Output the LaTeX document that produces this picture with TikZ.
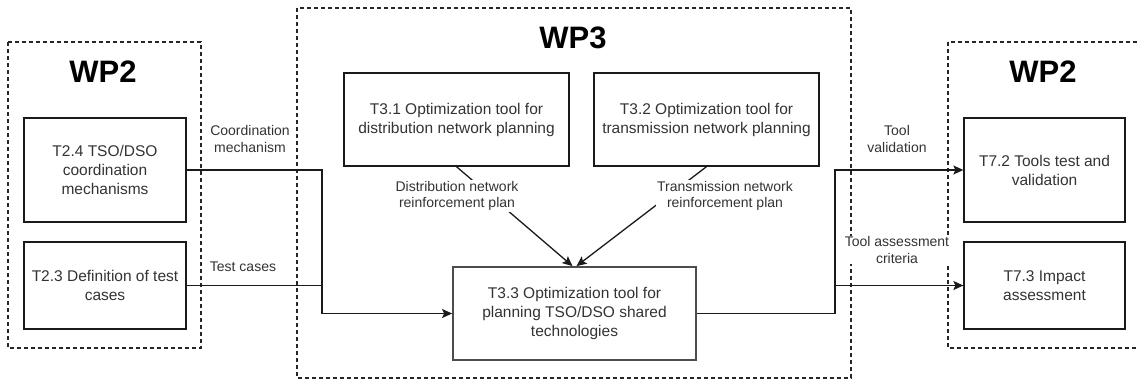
\documentclass[tikz,border=0pt]{standalone}
\usepackage{fontspec}
\setmainfont{Liberation Sans}
\usetikzlibrary{arrows.meta,calc}
\definecolor{txt}{HTML}{333333}
\definecolor{edge}{HTML}{1A1A1A}
\tikzset{
  wpbox/.style={draw=black!85, line width=1.2pt, dash pattern=on 4pt off 3pt},
  title/.style={font=\fontsize{31}{36}\selectfont\bfseries, text=black},
  task/.style={draw=edge, line width=1.3pt, rectangle, align=center, text=txt,
    font=\fontsize{15.5}{19}\selectfont, inner sep=2pt},
  elabel/.style={align=center, text=txt, font=\fontsize{14}{16.5}\selectfont, inner sep=1pt},
  conn/.style={draw=edge, line width=1.3pt},
  arr/.style={conn, -{Stealth[length=10pt,width=9pt,inset=2pt]}},
}
\begin{document}
\begin{tikzpicture}[x=1pt,y=-1pt]
\useasboundingbox (0,0) rectangle (1137,381);
\clip (0,0) rectangle (1137,381);
% work package frames
\draw[wpbox] (8,42) rectangle (201,348);
\draw[wpbox] (297,8) rectangle (851,378);
\draw[wpbox] (948,42) rectangle (1160,348);
\node[title] (wp2l) at (103,72) {WP2};
\node[title] (wp3) at (573,38) {WP3};
\node[title] (wp2r) at (1043,72) {WP2};
% tasks
\node[task, minimum width=162pt, minimum height=104pt] (t24) at (105,170) {T2.4 TSO/DSO\\coordination\\mechanisms};
\node[task, minimum width=162pt, minimum height=87pt] (t23) at (105,285.5) {T2.3 Definition of test\\cases};
\node[task, minimum width=225pt, minimum height=93pt] (t31) at (456.5,119.5) {T3.1 Optimization tool for\\distribution network planning};
\node[task, minimum width=225pt, minimum height=93pt] (t32) at (706.5,119.5) {T3.2 Optimization tool for\\transmission network planning};
\node[task, minimum width=243pt, minimum height=93pt, draw=black!70, line width=1.8pt] (t33) at (574.5,313.5) {T3.3 Optimization tool for\\planning TSO/DSO shared\\technologies};
\node[task, minimum width=161pt, minimum height=104pt] (t72) at (1044.5,170) {T7.2 Tools test and\\validation};
\node[task, minimum width=161pt, minimum height=87pt] (t73) at (1044.5,285.5) {T7.3 Impact\\assessment};
% junctions
\coordinate (jL) at (322,0);
\coordinate (jR) at (835,0);
% connectors
\draw[arr] (t24.east) -| (jL |- t33.west) -- (t33.west);
\draw[conn] (t23.east) -- (jL |- t23.east);
\draw[arr] (t33.east) -| (jR |- t72.west) -- (t72.west);
\draw[arr] (jR |- t73.west) -- (t73.west);
\draw[arr] (t31.south) -- ([xshift=-2pt]t33.north);
\draw[arr] (t32.south) -- ([xshift=2pt]t33.north);
% labels
\node[elabel] (lcoord) at (250,139) {Coordination\\mechanism};
\node[elabel] (ltest) at (243,267) {Test cases};
\node[elabel] (lval) at (897,139) {Tool\\validation};
\node[elabel, fill=white] (lcrit) at (897,250) {Tool assessment\\criteria};
\node[elabel, fill=white] (ldist) at (457,196) {Distribution network\\reinforcement plan};
\node[elabel, fill=white] (ltrans) at (725,196) {Transmission network\\reinforcement plan};
\end{tikzpicture}
\end{document}
